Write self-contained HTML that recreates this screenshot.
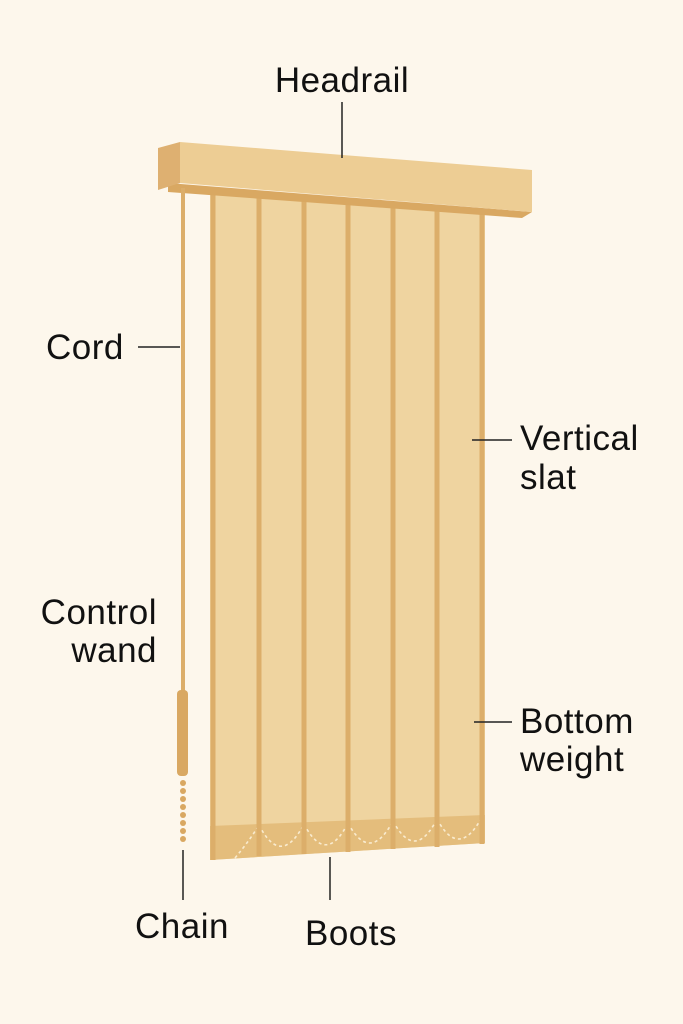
<!DOCTYPE html>
<html><head><meta charset="utf-8"><style>
html,body{margin:0;padding:0;background:#fdf7ec;}
svg{display:block}
text{font-family:"Liberation Sans",sans-serif;font-size:35px;fill:#111;letter-spacing:0.5px;}
</style></head><body>
<svg width="683" height="1024" viewBox="0 0 683 1024">
<rect width="683" height="1024" fill="#fdf7ec"/>
<polygon points="210,188 485,212 485,843 210,860" fill="#efd4a0"/>
<polygon points="210,826 485,815 485,843 210,860" fill="#e4bd7c"/>
<g fill="none" stroke="#f9ebcf" stroke-width="1.6" stroke-dasharray="3,3">
<path d="M235,858 Q250,840 259,825"/>
<path d="M259,825 Q281,868 304,824"/>
<path d="M304,824 Q326,866 348,823"/>
<path d="M348,823 Q370,864 393,821"/>
<path d="M393,821 Q415,862 437,819"/>
<path d="M437,819 Q459,860 482,817"/>
</g>
<g stroke="#dcae6a" stroke-width="5">
<line x1="213" y1="188" x2="213" y2="860"/>
<line x1="259" y1="192" x2="259" y2="856"/>
<line x1="304" y1="196" x2="304" y2="854"/>
<line x1="348" y1="200" x2="348" y2="852"/>
<line x1="393" y1="204" x2="393" y2="849"/>
<line x1="437" y1="207" x2="437" y2="847"/>
<line x1="482" y1="211" x2="482" y2="844"/>
</g>
<polygon points="168,183 532,212 522,218 168,192" fill="#d9a862"/>
<polygon points="158,148 180,142 180,183 158,190" fill="#deb071"/>
<polygon points="180,142 532,170 532,212 180,183" fill="#edcd94"/>
<line x1="183" y1="188" x2="183" y2="692" stroke="#dcae6a" stroke-width="4"/>
<rect x="177" y="690" width="11" height="86" rx="4" fill="#d9a862"/>
<g fill="#d9a862">
<circle cx="183" cy="783" r="3"/><circle cx="183" cy="791" r="3"/><circle cx="183" cy="799" r="3"/><circle cx="183" cy="807" r="3"/><circle cx="183" cy="815" r="3"/><circle cx="183" cy="823" r="3"/><circle cx="183" cy="831" r="3"/><circle cx="183" cy="839" r="3"/>
</g>
<g stroke="#222" stroke-width="1.5">
<line x1="342" y1="102" x2="342" y2="158"/>
<line x1="138" y1="347" x2="180" y2="347"/>
<line x1="472" y1="440" x2="512" y2="440"/>
<line x1="474" y1="722" x2="512" y2="722"/>
<line x1="183" y1="850" x2="183" y2="900"/>
<line x1="330" y1="857" x2="330" y2="900"/>
</g>
<text x="342" y="92" text-anchor="middle">Headrail</text>
<text x="46" y="359">Cord</text>
<text x="520" y="450">Vertical</text>
<text x="520" y="489">slat</text>
<text x="157" y="624" text-anchor="end">Control</text>
<text x="157" y="662" text-anchor="end">wand</text>
<text x="520" y="733">Bottom</text>
<text x="520" y="771">weight</text>
<text x="135" y="938">Chain</text>
<text x="305" y="945">Boots</text>
</svg>
</body></html>
